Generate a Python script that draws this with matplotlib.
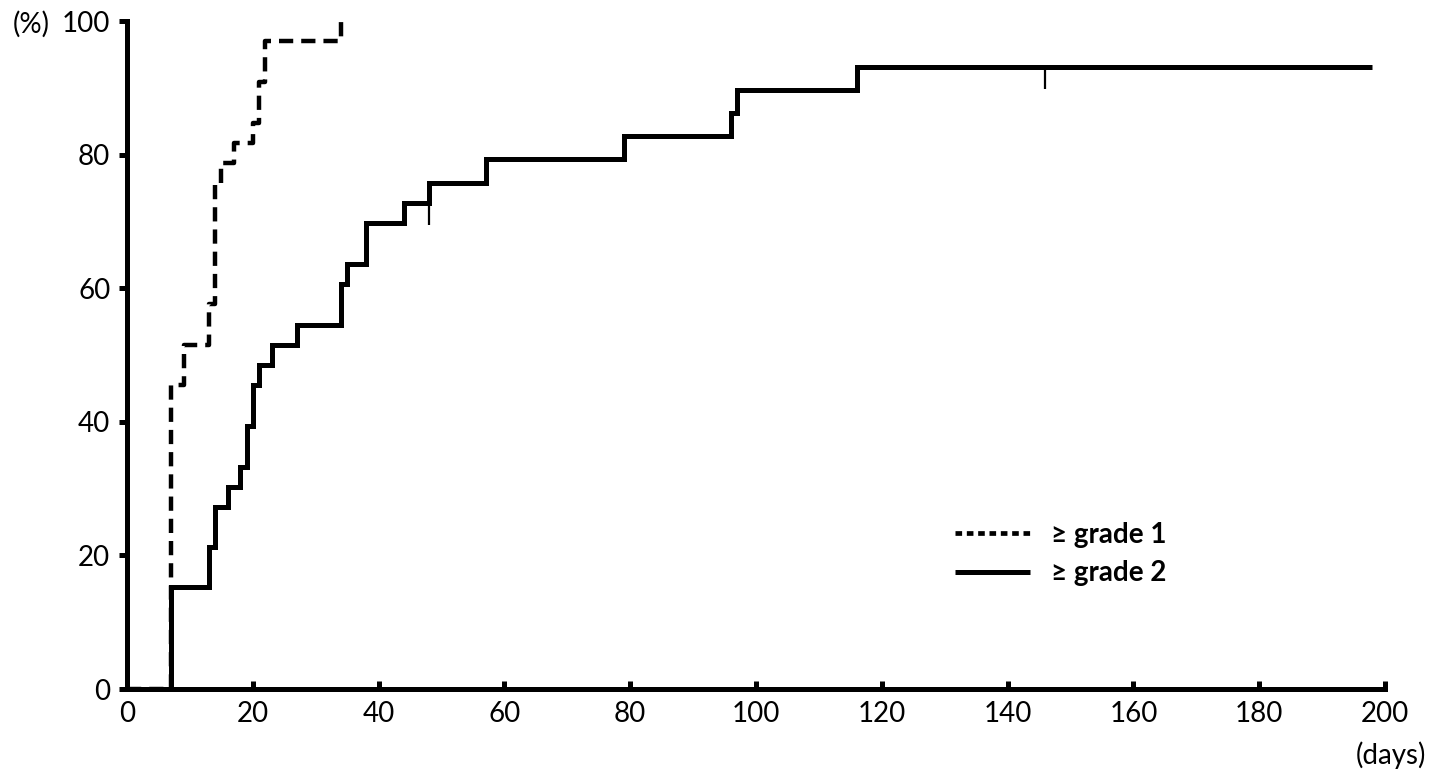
import matplotlib
matplotlib.use('Agg')
import matplotlib.pyplot as plt
import numpy as np
from matplotlib.lines import Line2D

plt.rcParams['font.family'] = ['Lato', 'DejaVu Sans']

# cumulative incidence (%), step curves
g1_days = [0, 7, 9, 13, 14, 15, 17, 20, 21, 22, 34]
g1_vals = [0, 45.5, 51.5, 57.6, 75.8, 78.8, 81.8, 84.8, 90.9, 97.0, 100]

g2_days = [0, 7, 13, 14, 16, 18, 19, 20, 21, 23, 27, 34, 35, 38, 44, 48, 57, 79, 96, 97, 116, 198]
g2_vals = [0, 15.2, 21.2, 27.3, 30.3, 33.3, 39.4, 45.5, 48.5, 51.5, 54.5, 60.6, 63.6, 69.7,
           72.7, 75.8, 79.3, 82.8, 86.2, 89.7, 93.1, 93.1]

# censored observations
cens_days = np.array([48, 146])
cens_vals = np.array([72.7, 93.1])

xticks = [0, 20, 40, 60, 80, 100, 120, 140, 160, 180, 200]
yticks = [0, 20, 40, 60, 80, 100]
labels = ['\u2265 grade 1', '\u2265 grade 2']

fig = plt.figure(figsize=(14.41, 7.83), dpi=100)
ax = fig.add_axes([127 / 1441, 94 / 783, 1258 / 1441, 668 / 783])

ax.step(g1_days, g1_vals, where='post', color='black', lw=3.2,
        dashes=(3.2, 1.8), dash_capstyle='butt', solid_capstyle='butt', zorder=2)
ax.step(g2_days, g2_vals, where='post', color='black', lw=3.6,
        solid_joinstyle='miter', solid_capstyle='butt', zorder=3)
ax.vlines(cens_days, cens_vals - 3.3, cens_vals, color='black', lw=1.6, zorder=3)

ax.set_xlim(0, 200)
ax.set_ylim(0, 100)
ax.set_xticks(xticks)
ax.set_yticks(yticks)
for s in ['top', 'right']:
    ax.spines[s].set_visible(False)
for s in ['left', 'bottom']:
    ax.spines[s].set_linewidth(3.6)
    ax.spines[s].set_zorder(5)
ax.tick_params(axis='x', direction='in', length=6, width=3.6, pad=9, labelsize=20)
ax.tick_params(axis='y', direction='out', length=6, width=3.6, pad=6, labelsize=20)

fig.text(31 / 1441, 1 - 24 / 783, '(%)', fontsize=20, ha='center', va='center')
fig.text(1391 / 1441, 1 - 755 / 783, '(days)', fontsize=20, ha='center', va='center')

h1 = Line2D([], [], color='black', lw=3.4, dashes=(1.4, 1.0), dash_capstyle='butt')
h2 = Line2D([], [], color='black', lw=3.6, solid_capstyle='butt')
leg = ax.legend([h1, h2], labels, loc='center left', bbox_to_anchor=(0.658, 0.202),
                frameon=False, handlelength=2.7, handletextpad=0.75, labelspacing=0.45,
                borderpad=0, borderaxespad=0,
                prop={'size': 20, 'weight': 'bold'})

fig.savefig('out.png', dpi=100)
